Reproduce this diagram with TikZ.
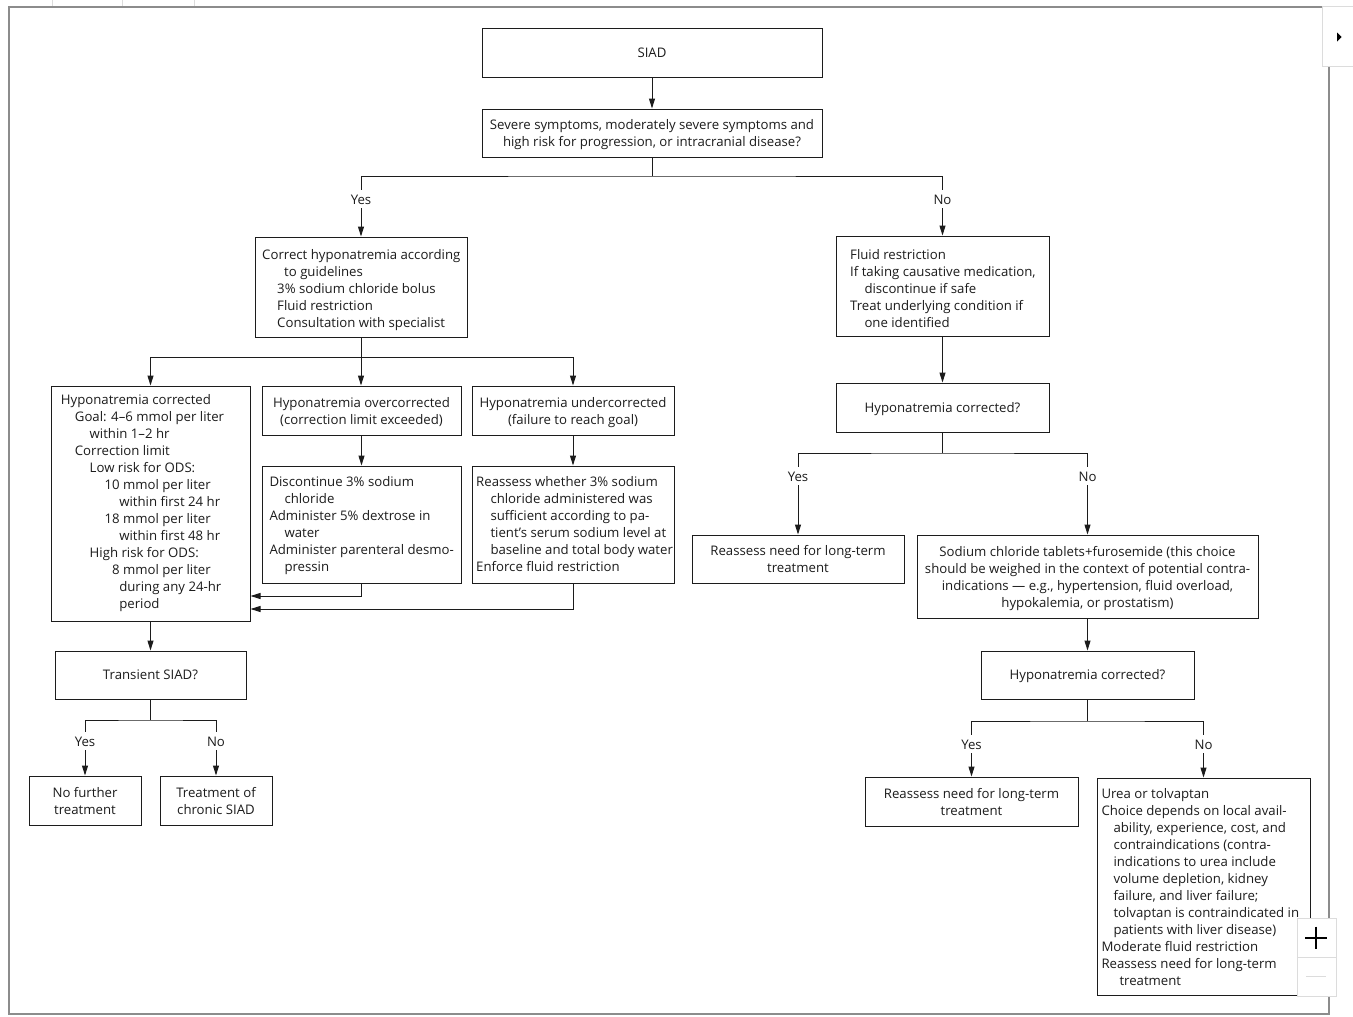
\documentclass[tikz,border=0pt]{standalone}
\usepackage{fontspec}
\setmainfont{Open Sans}
\usetikzlibrary{arrows.meta}
\definecolor{ink}{HTML}{1C1C1C}
\definecolor{framec}{HTML}{8C8C8C}
\definecolor{uic}{HTML}{DCDCDC}
\newcommand\fs{\fontsize{13.2}{17}\selectfont}
\newcommand\tstrut{\rule{0pt}{15.9pt}}
\begin{document}
\begin{tikzpicture}[x=1pt,y=-1pt,
  bx/.style={draw=ink, line width=1pt, inner sep=0pt},
  cbox/.style={bx, align=center, font=\fs, text=ink},
  onel/.style={text height=9.5pt, text depth=0pt},
  txt/.style={anchor=west, align=left, inner sep=0pt, font=\fs, text=ink},
  lbl/.style={font=\fs, text=ink, inner xsep=2pt, inner ysep=3pt, text height=11pt, text depth=1pt},
  ln/.style={draw=ink, line width=1pt},
  arr/.style={ln, -{Triangle[length=10pt,width=6pt]}}]
\useasboundingbox (0,0) rectangle (1353,1017);
\fill[white] (0,0) rectangle (1353,1017);
% frame
\draw[framec, line width=2pt] (8.5,7) rectangle (1329,1014);
% boxes
\node[cbox, onel, minimum width=340pt, minimum height=49pt] (siad) at (652,52.5) {SIAD};
\node[cbox, minimum width=340pt, minimum height=48pt] (sev) at (652,133)
  {\tstrut Severe symptoms, moderately severe symptoms and\\ high risk for progression, or intracranial disease?\strut};
\node[lbl] (y1) at (361,199) {Yes};
\node[lbl] (n1) at (942.5,199) {No};
\node[bx, minimum width=212pt, minimum height=100pt] (corr) at (361,287) {};
\node[txt] (corrt) at (262,290) {\strut Correct hyponatremia according\\
  \hspace*{22pt}to guidelines\\
  \hspace*{15pt}3\% sodium chloride bolus\\
  \hspace*{15pt}Fluid restriction\\
  \hspace*{15pt}Consultation with specialist\strut};
\node[bx, minimum width=213pt, minimum height=100pt] (fluid) at (942.5,286) {};
\node[txt] (fluidt) at (850,290) {\strut Fluid restriction\\
  If taking causative medication,\\
  \hspace*{14.3pt}discontinue if safe\\
  Treat underlying condition if\\
  \hspace*{14.3pt}one identified\strut};
% left column
\node[bx, minimum width=199pt, minimum height=235pt] (hc) at (150.5,503.5) {};
\node[txt] (hct) at (60.7,503) {\strut Hyponatremia corrected\\
  \hspace*{14pt}Goal: 4–6 mmol per liter\\
  \hspace*{28.8pt}within 1–2 hr\\
  \hspace*{14pt}Correction limit\\
  \hspace*{28.8pt}Low risk for ODS:\\
  \hspace*{43.6pt}10 mmol per liter\\
  \hspace*{58.4pt}within first 24 hr\\
  \hspace*{43.6pt}18 mmol per liter\\
  \hspace*{58.4pt}within first 48 hr\\
  \hspace*{28.8pt}High risk for ODS:\\
  \hspace*{43.6pt}\phantom{1}8 mmol per liter\\
  \hspace*{58.4pt}during any 24-hr\\
  \hspace*{58.4pt}period\strut};
\node[cbox, minimum width=199pt, minimum height=49pt] (over) at (361.5,410.5)
  {\tstrut Hyponatremia overcorrected\\(correction limit exceeded)\strut};
\node[cbox, minimum width=202pt, minimum height=49pt] (under) at (573,410.5)
  {\tstrut Hyponatremia undercorrected\\(failure to reach goal)\strut};
\node[bx, minimum width=199pt, minimum height=117pt] (disc) at (361.5,524.5) {};
\node[txt] (disct) at (269.3,525.5) {\strut Discontinue 3\% sodium\\
  \hspace*{15pt}chloride\\
  Administer 5\% dextrose in\\
  \hspace*{15pt}water\\
  Administer parenteral desmo-\\
  \hspace*{15pt}pressin\strut};
\node[bx, minimum width=202pt, minimum height=117pt] (reas) at (573,524.5) {};
\node[txt] (reast) at (476,525.5) {\strut Reassess whether 3\% sodium\\
  \hspace*{14.3pt}chloride administered was\\
  \hspace*{14.3pt}sufficient according to pa-\\
  \hspace*{14.3pt}tient’s serum sodium level at\\
  \hspace*{14.3pt}baseline and total body water\\
  Enforce fluid restriction\strut};
\node[cbox, onel, minimum width=191pt, minimum height=48pt] (trans) at (150.5,675) {Transient SIAD?};
\node[lbl] (y3) at (85,741) {Yes};
\node[lbl] (n3) at (216,741) {No};
\node[cbox, minimum width=112pt, minimum height=49pt] (nofur) at (85,800.5)
  {\tstrut No further\\treatment\strut};
\node[cbox, minimum width=112pt, minimum height=49pt] (chron) at (216,800.5)
  {\tstrut Treatment of\\chronic SIAD\strut};
% right column
\node[cbox, onel, minimum width=213pt, minimum height=49pt] (hc2) at (942.5,407.5) {Hyponatremia corrected?};
\node[lbl] (y2) at (798,476) {Yes};
\node[lbl] (n2) at (1087.5,476) {No};
\node[cbox, minimum width=212pt, minimum height=48pt] (rl1) at (798,559)
  {\tstrut Reassess need for long-term\\treatment\strut};
\node[cbox, minimum width=341pt, minimum height=83pt] (nacl) at (1087.5,576.5)
  {\tstrut Sodium chloride tablets+furosemide (this choice\\
  should be weighed in the context of potential contra-\\
  indications — e.g., hypertension, fluid overload,\\
  hypokalemia, or prostatism)\strut};
\node[cbox, onel, minimum width=213pt, minimum height=48pt] (hc3) at (1087.5,675) {Hyponatremia corrected?};
\node[lbl] (y4) at (971.5,744) {Yes};
\node[lbl] (n4) at (1203.5,744) {No};
\node[cbox, minimum width=213pt, minimum height=49pt] (rl2) at (971.5,801.5)
  {\tstrut Reassess need for long-term\\treatment\strut};
\node[bx, minimum width=213pt, minimum height=217pt] (urea) at (1203.5,886.5) {};
\node[txt] (ureat) at (1101.3,888.5) {\strut Urea or tolvaptan\\
  Choice depends on local avail-\\
  \hspace*{12pt}ability, experience, cost, and\\
  \hspace*{12pt}contraindications (contra-\\
  \hspace*{12pt}indications to urea include\\
  \hspace*{12pt}volume depletion, kidney\\
  \hspace*{12pt}failure, and liver failure;\\
  \hspace*{12pt}tolvaptan is contraindicated in\\
  \hspace*{12pt}patients with liver disease)\\
  Moderate fluid restriction\\
  Reassess need for long-term\\
  \hspace*{18pt}treatment\strut};
% connectors
\coordinate (b1) at (652,176);
\coordinate (b2) at (361,357);
\coordinate (b3) at (942.5,453);
\coordinate (b4) at (150.5,720);
\coordinate (b5) at (1087.5,721);
\coordinate (j1) at (361.5,596);
\coordinate (j2) at (573,609);
\draw[arr] (siad) -- (sev);
\draw[ln] (sev) -- (b1);
\draw[ln] (y1) |- (b1) -| (n1);
\draw[arr] (y1) -- (corr);
\draw[arr] (n1) -- (fluid);
\draw[ln] (corr) -- (b2);
\draw[arr] (b2) -| (hc);
\draw[arr] (b2) -- (b2 |- over.north);
\draw[arr] (b2) -| (under);
\draw[arr] (over) -- (disc);
\draw[arr] (under) -- (reas);
\draw[arr] (disc) -- (j1) -- (j1 -| hc.east);
\draw[arr] (reas) -- (j2) -- (j2 -| hc.east);
\draw[arr] (hc) -- (trans);
\draw[ln] (trans) -- (b4);
\draw[ln] (y3) |- (b4) -| (n3);
\draw[arr] (y3) -- (nofur);
\draw[arr] (n3) -- (chron);
\draw[arr] (fluid) -- (hc2);
\draw[ln] (hc2) -- (b3);
\draw[ln] (y2) |- (b3) -| (n2);
\draw[arr] (y2) -- (rl1);
\draw[arr] (n2) -- (nacl);
\draw[arr] (nacl) -- (hc3);
\draw[ln] (hc3) -- (b5);
\draw[ln] (y4) |- (b5) -| (n4);
\draw[arr] (y4) -- (rl2);
\draw[arr] (n4) -- (urea);
% viewer controls
\draw[uic, line width=0.8pt] (52,0) -- (52,6) (122,0) -- (122,6) (194,0) -- (194,6);
\filldraw[fill=white, draw=uic, line width=0.8pt] (1322,6) rectangle (1356,66);
\fill[black] (1337,32.5) -- (1341.5,37) -- (1337,41.5) -- cycle;
\filldraw[fill=white, draw=uic, line width=0.8pt] (1297,918) rectangle (1336,957);
\filldraw[fill=white, draw=uic, line width=0.8pt] (1297,957) rectangle (1336,996);
\draw[black, line width=2pt] (1305,937.5) -- (1327,937.5) (1316,926.5) -- (1316,948.5);
\draw[uic, line width=1.5pt] (1306,976.5) -- (1326,976.5);
\end{tikzpicture}
\end{document}
